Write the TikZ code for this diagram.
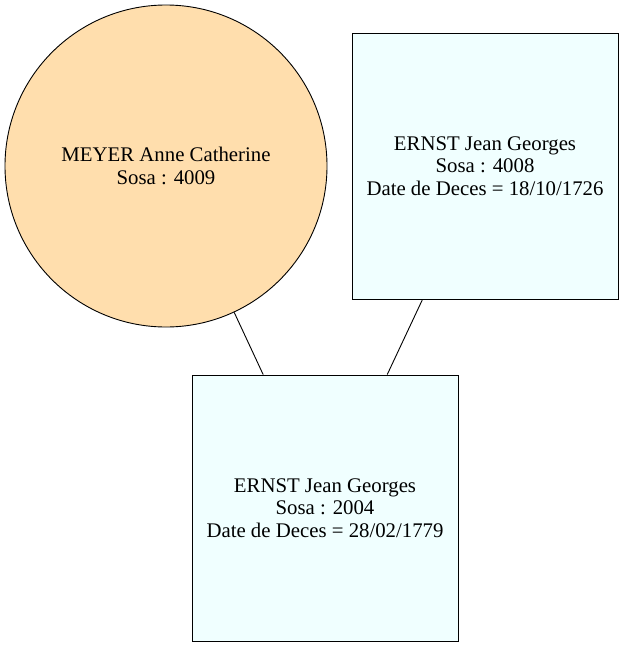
\documentclass[tikz,border=0pt]{standalone}
\usepackage{fontspec}
\setmainfont{Liberation Serif}
\definecolor{navajo}{RGB}{255,222,173}
\definecolor{azurebox}{RGB}{240,255,255}
\begin{document}
\begin{tikzpicture}[x=1pt,y=-1pt,
  person/.style={draw=black, line width=0.9pt, align=center, inner sep=0pt,
    font=\fontsize{20.8}{22.5}\selectfont},
  femme/.style={person, circle, fill=navajo, minimum size=322pt},
  homme/.style={person, rectangle, fill=azurebox, minimum width=266pt, minimum height=266pt},
  lien/.style={draw=black, line width=0.9pt}]
\useasboundingbox (0,0) rectangle (624,648);
\node[femme] (m) at (166,166) {MEYER Anne Catherine\\Sosa : 4009};
\node[homme] (p) at (485,166) {ERNST Jean Georges\\Sosa : 4008\\Date de Deces = 18/10/1726};
\node[homme] (c) at (325,508) {ERNST Jean Georges\\Sosa : 2004\\Date de Deces = 28/02/1779};
\draw[lien] (m) -- (c);
\draw[lien] (p) -- (c);
\end{tikzpicture}
\end{document}
